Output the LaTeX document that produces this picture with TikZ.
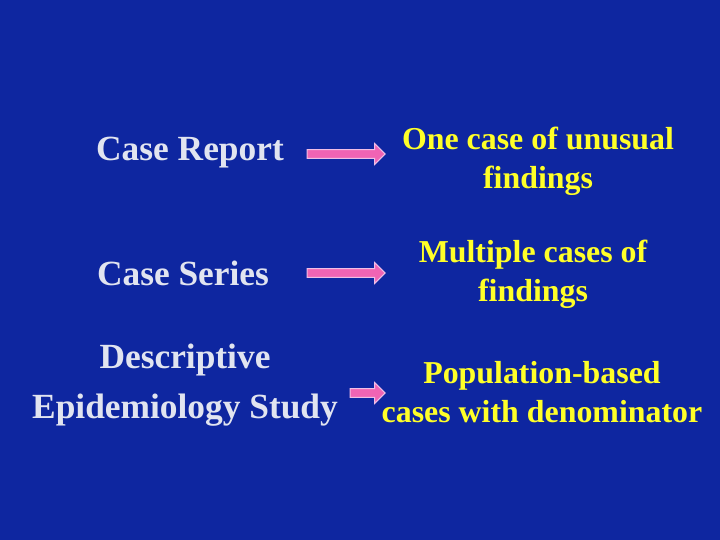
\documentclass[tikz,border=0pt]{standalone}
\usepackage{fontspec}
\setmainfont{Liberation Serif}
\usetikzlibrary{shapes.arrows}
\definecolor{bg}{RGB}{14,38,160}
\definecolor{ltxt}{RGB}{225,228,240}
\definecolor{ytxt}{RGB}{255,255,40}
\definecolor{pinkf}{RGB}{240,100,180}
\definecolor{pinkd}{RGB}{240,190,230}
\tikzset{x=1bp,y=1bp,
 lab/.style={text=ltxt,font=\fontsize{35.5}{40}\selectfont\bfseries,align=center},
 res/.style={text=ytxt,font=\fontsize{32}{39}\selectfont\bfseries,align=center},
 arr/.style={single arrow,fill=pinkf,draw=pinkd,line width=1bp,single arrow head extend=5bp,minimum height=#1,minimum width=21bp,inner sep=3bp}}
\begin{document}
\begin{tikzpicture}
\fill[bg] (0,0) rectangle (720,540);
\useasboundingbox (0,0) rectangle (720,540);
\node[lab] (l1) at (190,387) {Case Report};
\node[lab] (l2) at (183,267) {Case Series};
\node[lab] (l3) at (185,155) {Descriptive\\[10bp]Epidemiology Study};
\node[res] (r1) at (538,379) {One case of unusual\\findings};
\node[res] (r2) at (533,266) {Multiple cases of\\findings};
\node[res] (r3) at (542,148) {Population-based\\cases with denominator};
\node[arr=78bp] (a1) at (344,386) {};
\node[arr=78bp] (a2) at (344,267) {};
\node[arr=35bp] (a3) at (365.5,147) {};
\end{tikzpicture}
\end{document}
